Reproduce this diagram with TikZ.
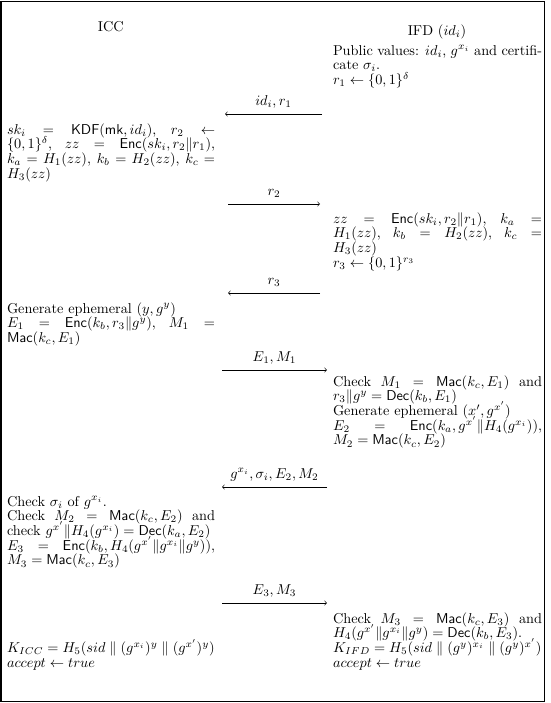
\documentclass[tikz,border=0pt]{standalone}
\usepackage{amsmath}
\newcommand{\fsz}{\fontsize{10}{10.3}\selectfont\lineskiplimit=-6pt\lineskip=0pt}
\begin{document}
\begin{tikzpicture}[x=0.6993pt,y=-0.6993pt,
  every node/.style={inner sep=0pt, outer sep=0pt, font=\fsz},
  txt/.style={anchor=base west, text width=#1, align=justify},
  hdr/.style={anchor=base},
  lbl/.style={anchor=base},
  msg/.style={draw, line width=0.4pt, ->}]
\useasboundingbox (0,0) rectangle (550,703);
\draw[line width=0.75pt] (1,1.5) rectangle (544.5,701.5);

% headers
\node[hdr] (icc) at (110.8,31.5) {ICC};
\node[hdr] (ifd) at (437,35.5) {IFD $(id_i)$};

% text blocks
\node[txt=146.2pt] (r0) at (333,55) {Public values: $id_i$, $g^{x_i}$ and certifi-\linebreak cate $\sigma_i$.\\ $r_1 \leftarrow \{0,1\}^\delta$};

\node[txt=145.5pt] (l1) at (7,134) {$sk_i = \mathsf{KDF}(\mathsf{mk}, id_i)$, $r_2 \leftarrow$\linebreak $\{0,1\}^\delta$, $zz = \mathsf{Enc}(sk_i, r_2\|r_1)$,\linebreak $k_a = H_1(zz)$, $k_b = H_2(zz)$, $k_c =$\linebreak $H_3(zz)$};

\node[txt=146.2pt] (r1) at (333,223) {$zz = \mathsf{Enc}(sk_i, r_2\|r_1)$, $k_a =$\linebreak $H_1(zz)$, $k_b = H_2(zz)$, $k_c =$\linebreak $H_3(zz)$\\ $r_3 \leftarrow \{0,1\}^{r_3}$};

\node[txt=145.5pt] (l2) at (7,313) {Generate ephemeral $(y, g^y)$\\ $E_1 = \mathsf{Enc}(k_b, r_3\|g^y)$, $M_1 =$\linebreak $\mathsf{Mac}(k_c, E_1)$};

\node[txt=146.2pt] (r2) at (333,386) {Check $M_1 = \mathsf{Mac}(k_c, E_1)$ and\linebreak $r_3\|g^y = \mathsf{Dec}(k_b, E_1)$\\ Generate ephemeral $(x', g^{x'})$\\ $E_2 = \mathsf{Enc}(k_a, g^{x'}\|H_4(g^{x_i}))$,\linebreak $M_2 = \mathsf{Mac}(k_c, E_2)$};

\node[txt=145.5pt] (l3) at (7,506) {Check $\sigma_i$ of $g^{x_i}$.\\ Check $M_2 = \mathsf{Mac}(k_c, E_2)$ and\linebreak check \mbox{$g^{x'}\|H_4(g^{x_i}) = \mathsf{Dec}(k_a, E_2)$}\\ $E_3 = \mathsf{Enc}(k_b, H_4(g^{x'}\|g^{x_i}\|g^y))$,\linebreak $M_3 = \mathsf{Mac}(k_c, E_3)$};

\node[txt=146.2pt] (r3) at (333,623) {Check $M_3 = \mathsf{Mac}(k_c, E_3)$ and\linebreak \mbox{$H_4(g^{x'}\|g^{x_i}\|g^y) = \mathsf{Dec}(k_b, E_3)$.}\\ \mbox{$K_{IFD} = H_5(sid \parallel (g^y)^{x_i} \parallel (g^y)^{x'})$}\\ $accept \leftarrow true$};

\node[txt=145.5pt] (l4) at (7,652.5) {\mbox{$K_{ICC} = H_5(sid \parallel (g^{x_i})^y \parallel (g^{x'})^y)$}\\ $accept \leftarrow true$};

% messages
\coordinate (m1a) at (322,114); \coordinate (m1b) at (225,114);
\draw[msg] (m1a) -- (m1b);
\node[lbl] (t1) at (273.5,105) {$id_i, r_1$};

\coordinate (m2a) at (228,204); \coordinate (m2b) at (320,204);
\draw[msg] (m2a) -- (m2b);
\node[lbl] (t2) at (274,195) {$r_2$};

\coordinate (m3a) at (320,293); \coordinate (m3b) at (228,293);
\draw[msg] (m3a) -- (m3b);
\node[lbl] (t3) at (274,284) {$r_3$};

\coordinate (m4a) at (222,370); \coordinate (m4b) at (327,370);
\draw[msg] (m4a) -- (m4b);
\node[lbl] (t4) at (274.5,361) {$E_1, M_1$};

\coordinate (m5a) at (327,487); \coordinate (m5b) at (222,487);
\draw[msg] (m5a) -- (m5b);
\node[lbl] (t5) at (274.5,478) {$g^{x_i}, \sigma_i, E_2, M_2$};

\coordinate (m6a) at (222,603); \coordinate (m6b) at (327,603);
\draw[msg] (m6a) -- (m6b);
\node[lbl] (t6) at (274.5,594) {$E_3, M_3$};
\end{tikzpicture}
\end{document}
